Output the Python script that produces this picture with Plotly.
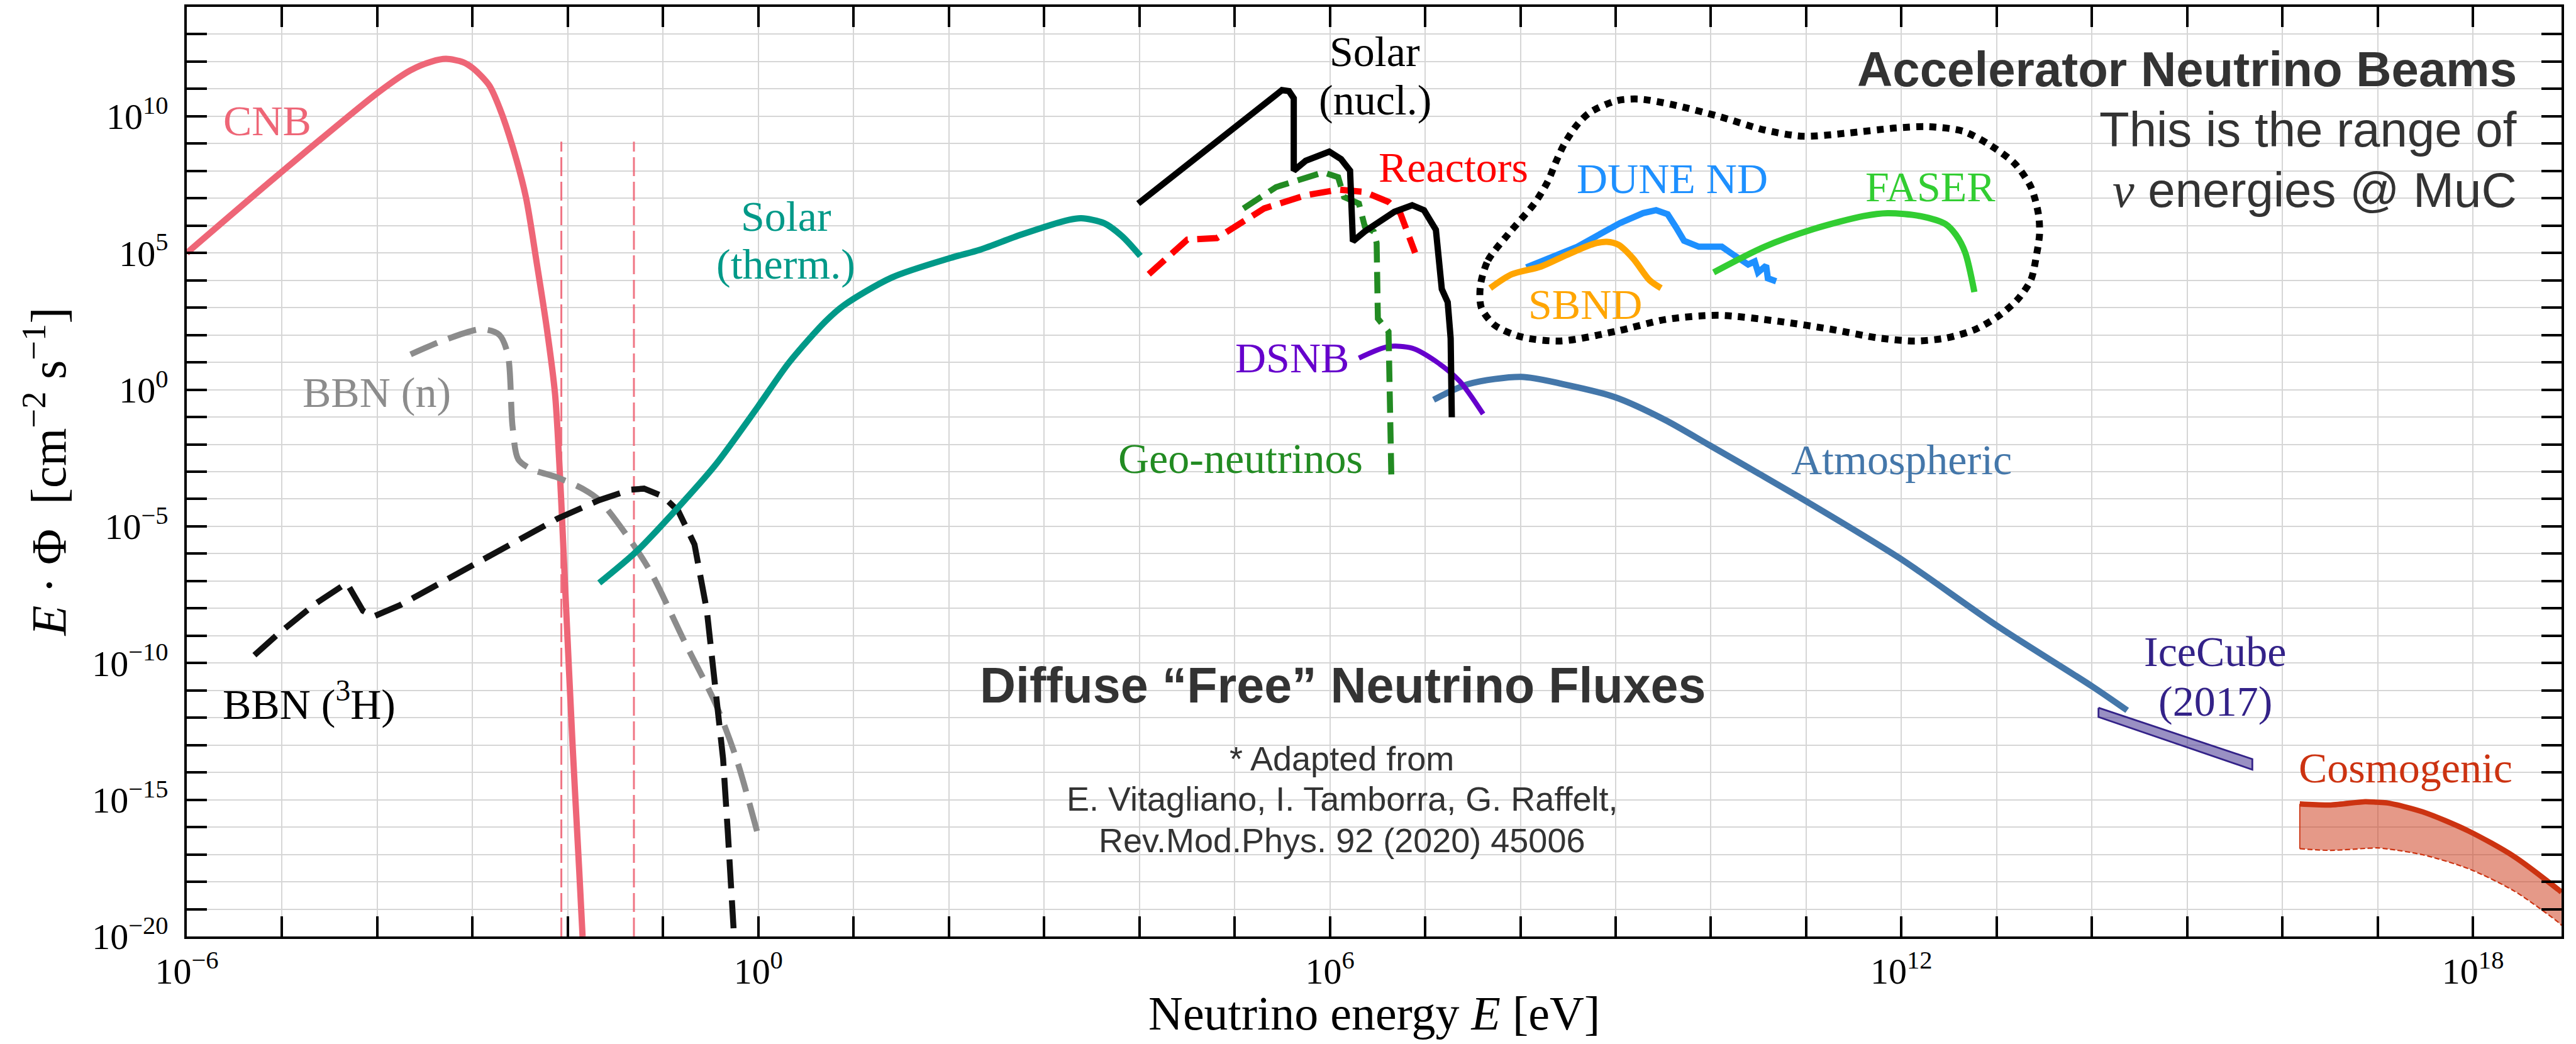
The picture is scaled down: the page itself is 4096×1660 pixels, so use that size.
import numpy as np
import plotly.graph_objects as go

# ---------------- data (log10 E [eV], log10 E*Phi) ----------------
cnb_logE = [-6.0, -5.03, -3.98, -3.653, -3.431, -3.279, -3.10, -2.99, -2.825, -2.716, -2.576,
            -2.44, -2.327, -2.22, -2.134, -2.07, -2.035, -1.95, -1.88, -1.845]
cnb_logF = [5.0, 7.89, 10.90, 11.68, 12.0, 12.10, 11.98, 11.74, 11.13, 10.30, 8.85,
            7.04, 4.65, 2.23, -0.16, -4.0, -6.7, -13.0, -17.6, -20.0]

mass_lines_logE = [-2.068, -1.306]
mass_lines_top = 9.07

bbn_n_logE = [-3.65, -3.32, -2.91, -2.72, -2.63, -2.58, -2.52, -2.38, -2.11, -1.83, -1.67,
              -1.34, -1.12, -0.78, -0.45, -0.23, -0.01]
bbn_n_logF = [1.29, 1.78, 2.21, 2.01, 1.29, -1.35, -2.55, -2.91, -3.21, -3.65, -4.04,
              -5.53, -6.73, -9.18, -11.48, -13.5, -16.2]

bbn_h3_logE = [-5.29, -5.03, -4.65, -4.32, -4.15, -4.04, -3.76, -3.16, -2.6, -2.11, -1.67,
               -1.34, -1.2, -1.0, -0.84, -0.67, -0.54, -0.45, -0.37, -0.32, -0.26]
bbn_h3_logF = [-9.71, -8.9, -7.83, -7.07, -8.09, -8.3, -7.88, -6.73, -5.66, -4.72, -4.04,
               -3.66, -3.62, -3.9, -4.44, -5.66, -8.09, -10.8, -13.5, -16.2, -19.7]

solar_th_logE = [-1.67, -1.28, -0.84, -0.45, -0.01, 0.32, 0.70, 0.90, 1.40, 2.02, 2.33,
                 2.76, 3.26, 3.39, 3.63, 3.82, 4.01]
solar_th_logF = [-7.07, -5.92, -4.3, -2.75, -0.65, 0.98, 2.48, 3.09, 4.10, 4.82, 5.12,
                 5.67, 6.21, 6.27, 6.09, 5.61, 4.89]

solar_nu_logE = [3.988, 5.497, 5.571, 5.621, 5.621, 5.746, 5.994, 6.118, 6.212, 6.242, 6.366,
                 6.677, 6.864, 6.988, 7.113, 7.175, 7.237, 7.268, 7.280]
solar_nu_logF = [6.808, 10.956, 10.92, 10.657, 8.011, 8.371, 8.709, 8.431, 8.011, 5.425, 5.786,
                 6.506, 6.748, 6.567, 5.846, 3.681, 3.20, 1.877, -1.01]

reactor_logE = [4.099, 4.379, 4.503, 4.814, 5.0, 5.311, 5.746, 6.088, 6.367, 6.616, 6.74, 6.895]
reactor_logF = [4.223, 5.125, 5.486, 5.546, 5.97, 6.63, 7.11, 7.316, 7.23, 6.868, 6.448, 5.005]

geo_logE = [5.093, 5.435, 5.931, 6.087, 6.149, 6.305, 6.367, 6.46, 6.491, 6.504, 6.616, 6.646]
geo_logF = [6.627, 7.41, 7.95, 7.77, 7.048, 6.808, 5.967, 5.786, 5.363, 2.6, 2.12, -3.29]

dsnb_logE = [6.305, 6.616, 6.864, 7.113, 7.362, 7.609]
dsnb_logF = [1.155, 1.577, 1.517, 1.036, 0.313, -0.89]

atm_logE = [7.089, 7.458, 8.01, 8.441, 8.993, 9.51, 9.994, 10.995, 11.976, 13.01, 14.01, 14.37]
atm_logF = [-0.37, 0.208, 0.468, 0.208, -0.273, -1.09, -2.05, -4.07, -6.15, -8.65, -10.87, -11.73]

icecube_logE = [14.069, 15.684]
icecube_hi = [-11.636, -13.512]
icecube_lo = [-11.972, -13.898]

cosmo_logE = [16.182, 16.507, 16.868, 16.989, 17.109, 17.47, 17.952, 18.434, 18.916, 18.93]
cosmo_hi = [-15.153, -15.19, -15.07, -15.09, -15.12, -15.44, -16.14, -17.08, -18.34, -18.38]
cosmo_lo = [-16.79, -16.85, -16.78, -16.76, -16.80, -17.01, -17.52, -18.34, -19.54, -19.60]

dune_logE = [8.063, 8.598, 9.046, 9.288, 9.425, 9.546, 9.632, 9.718, 9.874, 10.115, 10.219,
             10.391, 10.46, 10.495, 10.58, 10.598, 10.685]
dune_logF = [4.471, 5.229, 6.095, 6.457, 6.565, 6.419, 5.95, 5.446, 5.229, 5.229, 4.977,
             4.578, 4.69, 4.29, 4.54, 4.074, 3.966]

sbnd_logE = [7.683, 7.907, 8.218, 8.494, 8.77, 8.908, 9.029, 9.184, 9.357, 9.477]
sbnd_logF = [3.714, 4.218, 4.507, 4.94, 5.337, 5.409, 5.3, 4.796, 4.002, 3.714]

faser_logE = [10.029, 10.564, 11.081, 11.599, 11.856, 12.2, 12.463, 12.573, 12.67, 12.766]
faser_logF = [4.29, 5.229, 5.878, 6.347, 6.455, 6.347, 6.059, 5.661, 5.012, 3.57]

blob_logE = [7.58, 7.66, 7.87, 8.149, 8.287, 8.373, 8.46, 8.598, 8.73, 9.01, 9.25, 9.59, 10.08,
             10.56, 10.97, 11.42, 11.94, 12.28, 12.64, 12.91, 13.19, 13.36, 13.44, 13.45, 13.42,
             13.36, 13.22, 13.03, 12.78, 12.47, 12.14, 11.76, 11.26, 10.71, 10.08, 9.53, 9.01,
             8.42, 8.01, 7.73, 7.59, 7.58]
blob_logF = [3.80, 4.73, 5.68, 6.82, 7.61, 8.33, 8.98, 9.70, 10.14, 10.57, 10.63, 10.43, 10.0,
             9.50, 9.27, 9.38, 9.57, 9.62, 9.46, 8.99, 8.27, 7.41, 6.39, 5.68, 4.96,
             4.02, 3.30, 2.72, 2.21, 1.89, 1.78, 1.89, 2.21, 2.50, 2.72, 2.57, 2.14,
             1.78, 1.93, 2.36, 3.0, 3.80]

x_tick_exp = list(range(-6, 19))
x_tick_labeled = [-6, 0, 6, 12, 18]
y_tick_exp = list(range(-20, 15))
y_tick_labeled = [-20, -15, -10, -5, 0, 5, 10]

# ---------------- styling ----------------
SERIF = "Liberation Serif"
SANS = "Liberation Sans"
LW = 10


def P(a):
    return [10.0 ** v for v in a]


fig = go.Figure()


def line(xs, ys, color, width=LW, dash=None, shape="linear"):
    fig.add_trace(go.Scatter(x=P(xs), y=P(ys), mode="lines", hoverinfo="skip",
                             line=dict(color=color, width=width, dash=dash, shape=shape,
                                       smoothing=0.8),
                             showlegend=False))


# cosmogenic band
fig.add_trace(go.Scatter(x=P(cosmo_logE + cosmo_logE[::-1]), y=P(cosmo_hi + cosmo_lo[::-1]),
                         mode="lines", fill="toself", fillcolor="rgba(204,51,17,0.5)",
                         line=dict(width=0, shape="spline", smoothing=0.8), hoverinfo="skip",
                         showlegend=False))
line([cosmo_logE[0], cosmo_logE[0]], [cosmo_hi[0], cosmo_lo[0]], "#CC3311", 1.8)
line(cosmo_logE, cosmo_lo, "#CC3311", 2.2, "8px,4px", "spline")
line(cosmo_logE, cosmo_hi, "#CC3311", 8.5, None, "spline")

# IceCube band
fig.add_trace(go.Scatter(x=P(icecube_logE + icecube_logE[::-1] + icecube_logE[:1]),
                         y=P(icecube_hi + icecube_lo[::-1] + icecube_hi[:1]),
                         mode="lines", fill="toself", fillcolor="rgba(51,34,136,0.5)",
                         line=dict(color="#332288", width=2.8), hoverinfo="skip",
                         showlegend=False))

# neutrino-mass vertical lines
for xm in mass_lines_logE:
    line([xm, xm], [-20, mass_lines_top], "rgba(238,102,119,0.9)", 3, "30px,9px")

line(cnb_logE, cnb_logF, "#EE6677", LW, None, "spline")
line(bbn_n_logE, bbn_n_logF, "#8C8C8C", 9.5, "46px,19px", "spline")
line(bbn_h3_logE, bbn_h3_logF, "#111111", 9.5, "46px,19px")
line(solar_th_logE, solar_th_logF, "#009988", LW, None, "spline")
line(atm_logE, atm_logF, "#4477AA", LW, None, "spline")
line(dsnb_logE, dsnb_logF, "#6600CC", 8, None, "spline")
line(geo_logE, geo_logF, "#228B22", 9.5, "34px,15px")
line(reactor_logE, reactor_logF, "#FF0000", 10, "34px,15px")
line(solar_nu_logE, solar_nu_logF, "#000000")
line(dune_logE, dune_logF, "#1E90FF", 10)
line(sbnd_logE, sbnd_logF, "#FFA500", 10, None, "spline")
line(faser_logE, faser_logF, "#32CD32", 10, None, "spline")
line(blob_logE, blob_logF, "#000000", 11, "11px,10px", "spline")

# ---------------- annotations ----------------
ann = []


def lab(text, x, y, color, size=68, family=SERIF, xanchor="center", yanchor="middle"):
    ann.append(dict(text=text, x=x, y=y, xref="x", yref="y", showarrow=False,
                    xanchor=xanchor, yanchor=yanchor,
                    font=dict(family=family, size=size, color=color)))


lab("CNB", -5.156, 9.833, "#EE6677")
lab("Solar", 0.291, 6.344, "#009988")
lab("(therm.)", 0.291, 4.590, "#009988")
lab("Solar", 6.474, 12.378, "#000000")
lab("(nucl.)", 6.474, 10.587, "#000000")
lab("Reactors", 7.297, 8.126, "#FF0000")
lab("DUNE ND", 9.596, 7.72, "#1E90FF")
lab("SBND", 8.681, 3.119, "#FFA500")
lab("FASER", 12.306, 7.419, "#32CD32")
lab("DSNB", 5.603, 1.158, "#6600CC")
lab("Geo-neutrinos", 5.063, -2.519, "#228B22")
lab("Atmospheric", 12.003, -2.557, "#4477AA")
lab("IceCube", 15.297, -9.590, "#332288")
lab("(2017)", 15.297, -11.401, "#332288")
lab("Cosmogenic", 17.293, -13.833, "#CC3311")
lab("BBN (n)", -4.009, -0.105, "#8C8C8C")
lab("BBN (<sup>3</sup>H)", -4.713, -11.40, "#000000")

DARK = "#333333"
lab("<b>Accelerator Neutrino Beams</b>", 18.473, 11.718, DARK, 78, SANS, xanchor="right")
lab("This is the range of", 18.473, 9.512, DARK, 78, SANS, xanchor="right")
lab("<span style=\"font-family:'Liberation Serif'\"><i>ν</i></span> energies @ MuC",
    18.473, 7.306, DARK, 78, SANS, xanchor="right")
lab("<b>Diffuse “Free” Neutrino Fluxes</b>", 6.139, -10.816, DARK, 79, SANS)
lab("* Adapted from", 6.128, -13.494, DARK, 54, SANS)
lab("E. Vitagliano, I. Tamborra, G. Raffelt,", 6.128, -14.965, DARK, 54, SANS)
lab("Rev.Mod.Phys. 92 (2020) 45006", 6.128, -16.474, DARK, 54, SANS)

# axis titles
ann.append(dict(text="Neutrino energy <i>E</i> [eV]", x=0.5, y=-0.0825, xref="paper",
                yref="paper", showarrow=False, xanchor="center", yanchor="middle",
                font=dict(family=SERIF, size=76, color="#000000")))
ann.append(dict(text="<i>E</i> · Φ  [cm<sup>−2</sup> s<sup>−1</sup>]", x=-0.0597, y=0.5,
                xref="paper", yref="paper", showarrow=False, textangle=-90,
                xanchor="center", yanchor="middle",
                font=dict(family=SERIF, size=78, color="#000000")))


def tick_text(exps, labeled):
    return ["10<sup>" + str(e).replace("-", "−") + "</sup>" if e in labeled else ""
            for e in exps]


axis_common = dict(type="log", showline=True, linecolor="#000000", linewidth=3.5,
                   mirror="ticks", ticks="inside", ticklen=32, tickwidth=3.5,
                   tickcolor="#000000", showgrid=True, gridcolor="#D6D6D6", gridwidth=2.2,
                   zeroline=False, tickmode="array",
                   tickfont=dict(family=SERIF, size=58, color="#000000"))

fig.update_layout(
    width=4096, height=1660,
    margin=dict(l=297, r=23, t=11, b=171, autoexpand=False),
    paper_bgcolor="#FFFFFF", plot_bgcolor="#FFFFFF",
    xaxis=dict(range=[-6, 18.93], tickvals=P(x_tick_exp),
               ticktext=tick_text(x_tick_exp, x_tick_labeled), ticklabelstandoff=2,
               **axis_common),
    yaxis=dict(range=[-20, 14], tickvals=P(y_tick_exp),
               ticktext=tick_text(y_tick_exp, y_tick_labeled), ticklabelstandoff=14,
               **axis_common),
    annotations=ann,
    showlegend=False,
)

fig.write_html("out.html")
